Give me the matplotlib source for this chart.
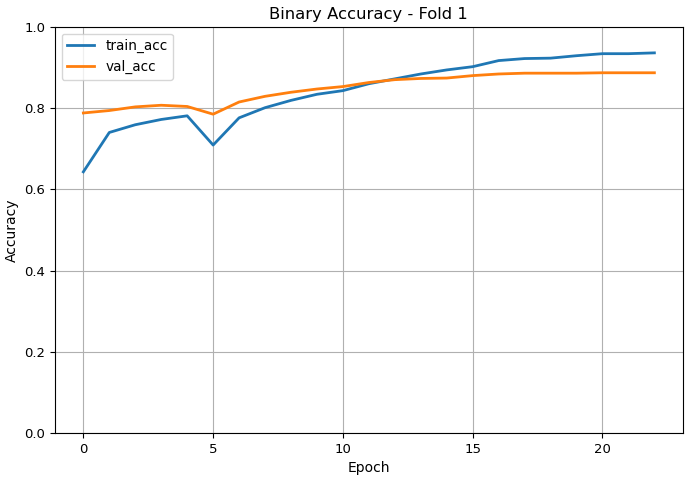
import matplotlib
matplotlib.use("Agg")
import matplotlib.pyplot as plt

epochs = list(range(23))
train_acc = [0.643, 0.740, 0.759, 0.772, 0.781, 0.709, 0.776, 0.801, 0.819, 0.834,
             0.843, 0.860, 0.872, 0.884, 0.894, 0.902, 0.917, 0.922, 0.923, 0.929,
             0.934, 0.934, 0.936]
val_acc = [0.788, 0.794, 0.803, 0.807, 0.804, 0.785, 0.815, 0.829, 0.839, 0.847,
           0.853, 0.863, 0.870, 0.873, 0.874, 0.880, 0.884, 0.886, 0.886, 0.886,
           0.887, 0.887, 0.887]

fig = plt.figure(figsize=(6.85, 4.8), dpi=100)
ax = fig.add_axes([0.080, 0.098, 0.917, 0.846])
ax.plot(epochs, train_acc, label="train_acc", color="#1f77b4", linewidth=2)
ax.plot(epochs, val_acc, label="val_acc", color="#ff7f0e", linewidth=2)
ax.set_ylim(0, 1.0)
ax.set_title("Binary Accuracy - Fold 1", fontsize=11.8)
ax.set_xlabel("Epoch", fontsize=10)
ax.set_ylabel("Accuracy", fontsize=10)
ax.tick_params(labelsize=9.5)
ax.grid(True)
ax.legend(loc="upper left", fontsize=9.8)
fig.savefig("out.png", dpi=100)
